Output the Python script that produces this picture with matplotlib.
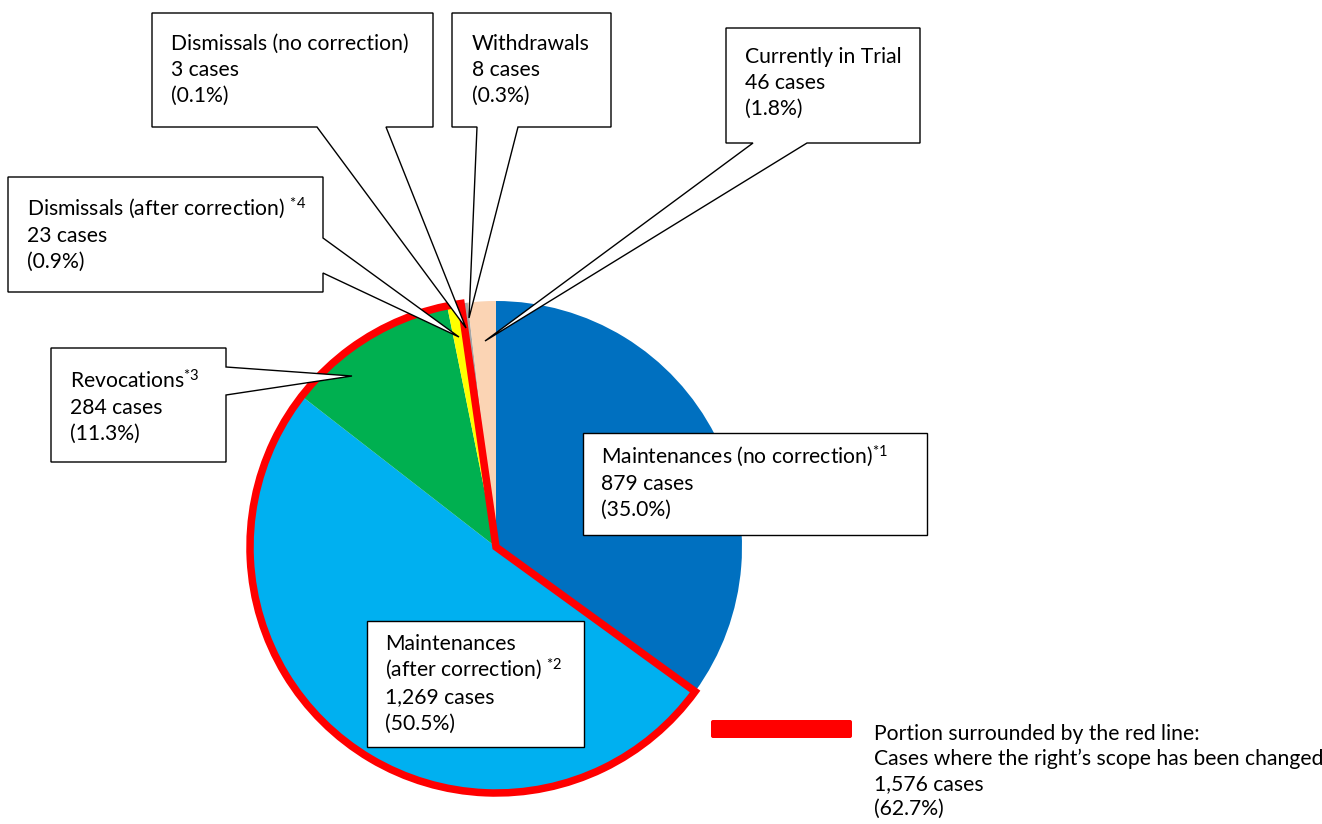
import matplotlib
matplotlib.use("Agg")
from matplotlib import pyplot as plt
from matplotlib.patches import Wedge, Polygon, FancyBboxPatch

W, H = 1322, 824

labels = [
    "Maintenances (no correction)$^{\\mathrm{*1}}$",
    "Maintenances\n(after correction) $^{\\mathrm{*2}}$",
    "Revocations$^{\\mathrm{*3}}$",
    "Dismissals (after correction) $^{\\mathrm{*4}}$",
    "Dismissals (no correction)",
    "Withdrawals",
    "Currently in Trial",
]
counts = [879, 1269, 284, 23, 3, 8, 46]
colors = ["#0070C0", "#00B0F0", "#00B050", "#FFFF00", "#8DB4E2", "#A6A6A6", "#FBD4B4"]
# slices inside the red line
changed = [1, 2, 3]
legend_lines = [
    "Portion surrounded by the red line:",
    "Cases where the right\u2019s scope has been changed",
]

plt.rcParams["font.family"] = ["Lato", "DejaVu Sans"]
plt.rcParams["mathtext.fontset"] = "custom"
plt.rcParams["mathtext.rm"] = "Lato"
plt.rcParams["mathtext.it"] = "Lato:italic"

FS = 15.2


def Y(y):
    return H - y


def callout(ax, box, side=None, base=None, tip=None):
    x0, y0, x1, y1 = box
    if side == "bottom":
        pts = [(x0, y0), (x1, y0), (x1, y1), (base[1], y1), tip, (base[0], y1), (x0, y1)]
    elif side == "right":
        pts = [(x0, y0), (x1, y0), (x1, base[0]), tip, (x1, base[1]), (x1, y1), (x0, y1)]
    else:
        pts = [(x0, y0), (x1, y0), (x1, y1), (x0, y1)]
    pts = [(px, Y(py)) for px, py in pts]
    ax.add_patch(Polygon(pts, closed=True, facecolor="white", edgecolor="black",
                         lw=1.0, zorder=5, joinstyle="miter"))


def lines_at(ax, x, y, lines, dy=25.7):
    for i, line in enumerate(lines):
        ax.text(x, Y(y + i * dy + 7), line, fontsize=FS, ha="left", va="baseline",
                color="black", zorder=6)


def main():
    fig = plt.figure(figsize=(W / 100, H / 100), dpi=100)
    ax = fig.add_axes([0, 0, 1, 1])
    total = sum(counts)
    cx, cy, r = 496, Y(547), 246

    ax.pie(counts, colors=colors, startangle=90, counterclock=False,
           center=(cx, cy), radius=r, wedgeprops=dict(linewidth=0))

    # red outline around the changed slices
    start = sum(counts[: changed[0]])
    end = sum(counts[: changed[-1] + 1])
    t1 = 90 - 360 * end / total
    t2 = 90 - 360 * start / total
    ax.add_patch(Wedge((cx, cy), r, t1, t2, fill=False, edgecolor="#FF0000",
                       lw=5.4, zorder=3, joinstyle="miter"))

    boxes = [
        dict(box=(583, 433, 927, 535), text=(601, 457)),
        dict(box=(367, 621, 584, 747), text=(385, 643), dy=26.7),
        dict(box=(51, 348, 226, 462), side="right", base=(367, 395), tip=(352, 376), text=(70, 381)),
        dict(box=(8, 177, 323, 292), side="right", base=(238, 273), tip=(459, 337), text=(27, 209)),
        dict(box=(152, 13, 433, 127), side="bottom", base=(317, 386), tip=(466, 328), text=(171, 43)),
        dict(box=(452, 13, 611, 127), side="bottom", base=(477, 518), tip=(469, 318), text=(472, 43)),
        dict(box=(726, 28, 920, 143), side="bottom", base=(753, 807), tip=(485, 341), text=(745, 56)),
    ]
    for label, n, b in zip(labels, counts, boxes):
        callout(ax, b["box"], b.get("side"), b.get("base"), b.get("tip"))
        pct = 100 * n / total
        lines = label.split("\n") + [f"{n:,} cases", f"({pct:.1f}%)"]
        lines_at(ax, b["text"][0], b["text"][1], lines, b.get("dy", 25.7))

    # legend for the red line
    ax.add_patch(FancyBboxPatch((711, Y(738)), 141, 18, boxstyle="round,pad=0,rounding_size=2",
                                facecolor="#FF0000", edgecolor="none", zorder=5))
    n_changed = sum(counts[i] for i in changed)
    lines_at(ax, 874, 733, legend_lines + [f"{n_changed:,} cases", f"({100 * n_changed / total:.1f}%)"], 25)

    ax.set_xlim(0, W)
    ax.set_ylim(0, H)
    ax.set_aspect("equal")
    ax.axis("off")
    fig.savefig("out.png", dpi=100, facecolor="white")


if __name__ == "__main__":
    main()
